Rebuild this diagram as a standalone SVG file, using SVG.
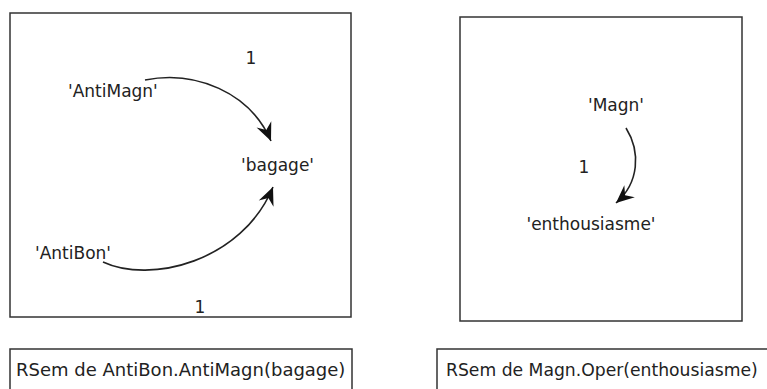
<svg xmlns="http://www.w3.org/2000/svg" width="767" height="389" viewBox="0 0 767 389">
<style>
.frame{fill:none;stroke:#333;stroke-width:1.5}
.lbl{font-family:"DejaVu Sans",sans-serif;font-size:17px;fill:#222}
.cap{font-family:"DejaVu Sans",sans-serif;font-size:18px;fill:#222}
.edge{fill:none;stroke:#222;stroke-width:1.6}
</style>
<defs>
<marker id="ah" markerUnits="userSpaceOnUse" markerWidth="22" markerHeight="18" viewBox="-19 -9 21 18" refX="0" refY="0" orient="auto">
<path d="M0,0 L-18,-8 L-12,0 L-18,8 Z" fill="#111"/>
</marker>
</defs>
<rect class="frame" x="10" y="13" width="341" height="304"/>
<rect class="frame" x="460" y="17" width="282" height="304"/>
<g id="connectors">
<path class="edge" d="M145,80 C195,70 250,92 271,141" marker-end="url(#ah)"/>
<path class="edge" d="M103,262 C150,284 242,262 273,187" marker-end="url(#ah)"/>
<path class="edge" d="M626,128 C641,152 639,183 616,203" marker-end="url(#ah)"/>
<text class="lbl" x="251" y="64" text-anchor="middle">1</text>
<text class="lbl" x="200" y="313" text-anchor="middle">1</text>
<text class="lbl" x="584" y="173" text-anchor="middle">1</text>
</g>
<g id="n-antimagn"><text class="lbl" x="68" y="97">'AntiMagn'</text></g>
<g id="n-bagage"><text class="lbl" x="241" y="171">'bagage'</text></g>
<g id="n-antibon"><text class="lbl" x="35" y="259">'AntiBon'</text></g>
<g id="n-magn"><text class="lbl" x="616" y="111" text-anchor="middle">'Magn'</text></g>
<g id="n-enthousiasme"><text class="lbl" x="591" y="230" text-anchor="middle">'enthousiasme'</text></g>
<g id="caption-left">
<rect class="frame" x="10" y="349" width="342" height="50"/>
<text class="cap" x="16" y="376">RSem de AntiBon.AntiMagn(bagage)</text>
</g>
<g id="caption-right">
<rect class="frame" x="437" y="349" width="340" height="50"/>
<text class="cap" x="446" y="376" style="font-size:17.2px">RSem de Magn.Oper(enthousiasme)</text>
</g>
</svg>
